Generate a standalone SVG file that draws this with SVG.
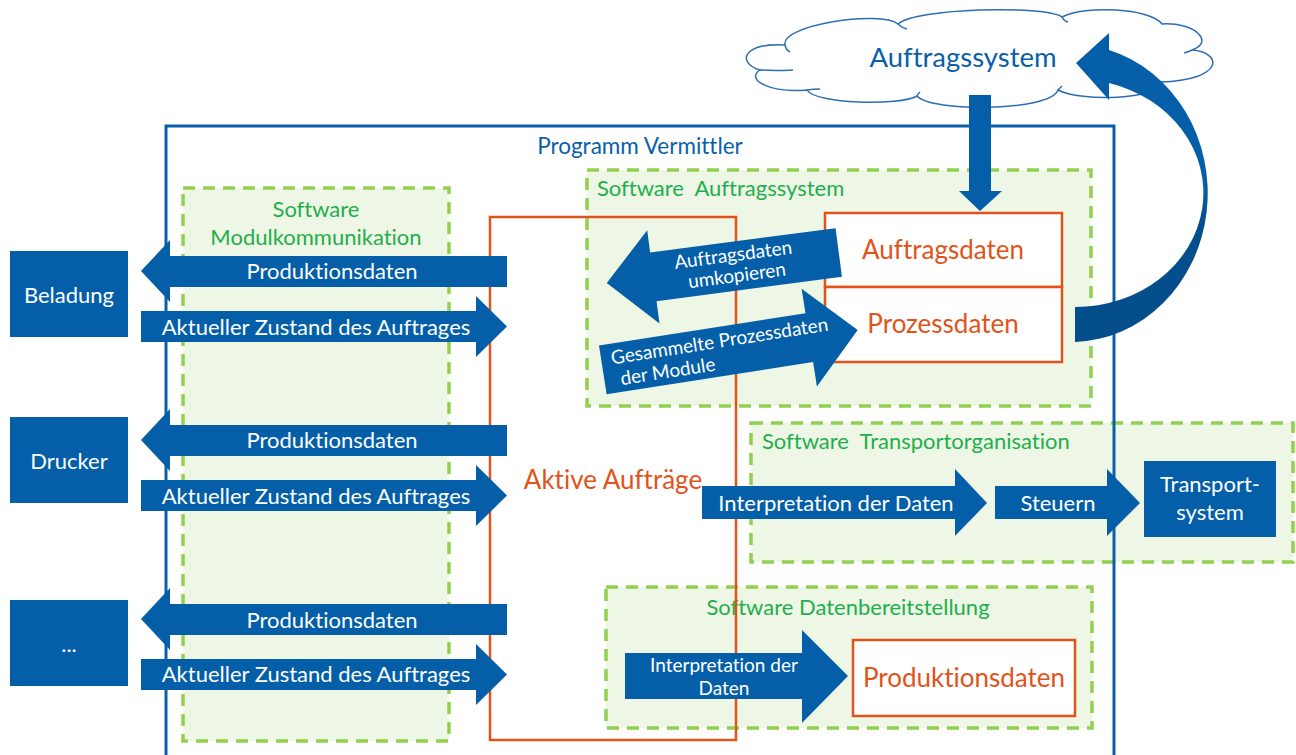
<svg xmlns="http://www.w3.org/2000/svg" width="1296" height="755" viewBox="0 0 1296 755">
<style>
.blue{fill:#045FA8}
.sw{fill:#EEF6E6;stroke:#92D050;stroke-width:3.5;stroke-dasharray:12 8}
.org{fill:none;stroke:#E2531A;stroke-width:2.5}
.ob{fill:#fff;stroke:#E2531A;stroke-width:2.5}
text{font-family:Lato,"Open Sans","Liberation Sans",sans-serif;font-variant-ligatures:none}
.w{fill:#fff;font-size:22px}
.ws{fill:#fff;font-size:19px}
.g{fill:#1FAF4C;font-size:22px}
.o{fill:#E2531A;font-size:26px}
.b{fill:#0B5FA8}
.c{text-anchor:middle}
</style>
<defs>
<linearGradient id="cg" gradientUnits="userSpaceOnUse" x1="0" y1="185" x2="0" y2="225">
<stop offset="0" stop-color="#045FA8"/>
<stop offset="1" stop-color="#044E8B"/>
</linearGradient>
</defs>

<g id="aktive-auftraege-bg"><rect x="490" y="217" width="246" height="523" fill="#fff"/></g>

<g id="sw-modulkommunikation">
<rect class="sw" x="183" y="188" width="266" height="553"/>
<text class="g c" x="316" y="217">Software</text>
<text class="g c" x="316" y="245">Modulkommunikation</text>
</g>
<g id="sw-auftragssystem">
<rect class="sw" x="587" y="170" width="504" height="236"/>
<text class="g" x="597" y="196" xml:space="preserve">Software  Auftragssystem</text>
</g>
<g id="sw-transport">
<rect class="sw" x="751" y="423" width="542" height="139"/>
<text class="g" x="762" y="449" xml:space="preserve">Software  Transportorganisation</text>
</g>
<g id="sw-datenbereitstellung">
<rect class="sw" x="606" y="587" width="486" height="141"/>
<text class="g c" x="848" y="615">Software Datenbereitstellung</text>
</g>

<g id="aktive-auftraege">
<rect class="org" x="490" y="217" width="246" height="523"/>
<text class="o c" x="613" y="489" font-size="25">Aktive Aufträge</text>
</g>

<g id="programm-vermittler">
<rect x="166" y="126" width="948" height="640" fill="none" stroke="#0B5FA8" stroke-width="3"/>
<text class="b c" x="640" y="154" font-size="22.5">Programm Vermittler</text>
</g>

<g id="cloud">
<path d="M785,45 C780,25 880,10 898,24 C915,8 1045,5 1062,17 C1085,5 1150,8 1162,24 C1195,22 1215,42 1192,50 C1222,52 1226,80 1160,82 C1160,100 1080,102 1058,90 C1050,112 930,112 917,96 C900,106 815,104 807,90 C770,93 745,80 760,70 C735,62 745,42 785,45 Z" fill="#fff" stroke="#2E6DB4" stroke-width="1.5"/>
<path d="M785,45 Q786,50 790,52 M898,24 Q902,28 907,29 M1062,17 Q1064,21 1068,22 M1192,50 Q1188,52 1184,53 M760,70 Q775,71 793,70 M807,90 Q813,89 820,89 M917,96 Q917,95 920,92 M1058,90 Q1060,88 1062,86" fill="none" stroke="#2E6DB4" stroke-width="1.5"/>
<text class="b c" x="963" y="67" font-size="27.5">Auftragssystem</text>
</g>

<g id="auftragsdaten">
<rect class="ob" x="825" y="213" width="237" height="74"/>
<text class="o c" x="943" y="259">Auftragsdaten</text>
</g>
<g id="prozessdaten">
<rect class="ob" x="825" y="287" width="237" height="75"/>
<text class="o c" x="943" y="333">Prozessdaten</text>
</g>
<g id="produktionsdaten-out">
<rect class="ob" x="853" y="640" width="222" height="76"/>
<text class="o c" x="964" y="687" font-size="27">Produktionsdaten</text>
</g>

<g id="beladung">
<rect class="blue" x="10" y="251" width="118" height="86"/>
<text class="w c" x="69" y="303">Beladung</text>
</g>
<g id="drucker">
<rect class="blue" x="10" y="417" width="118" height="86"/>
<text class="w c" x="69" y="469">Drucker</text>
</g>
<g id="weitere">
<rect class="blue" x="10" y="600" width="118" height="86"/>
<text class="w c" x="69" y="652">...</text>
</g>
<g id="transportsystem">
<rect class="blue" x="1144" y="461" width="132" height="76"/>
<text class="w c" x="1210" y="492">Transport-</text>
<text class="w c" x="1210" y="520">system</text>
</g>

<g id="connectors">
<path class="blue" d="M141,271 L170,240 L170,256 L507,256 L507,287 L170,287 L170,302 Z"/>
<path class="blue" d="M141,311 L476,311 L476,296 L507,326.5 L476,357 L476,342 L141,342 Z"/>
<path class="blue" d="M141,440 L170,409 L170,425 L507,425 L507,456 L170,456 L170,471 Z"/>
<path class="blue" d="M141,480 L476,480 L476,465 L507,495.5 L476,526 L476,511 L141,511 Z"/>
<path class="blue" d="M141,619 L170,588 L170,604 L507,604 L507,635 L170,635 L170,650 Z"/>
<path class="blue" d="M141,659 L476,659 L476,644 L507,674.5 L476,705 L476,690 L141,690 Z"/>
<path class="blue" d="M702,486 L955,486 L955,469 L987,503 L955,536 L955,519 L702,519 Z"/>
<path class="blue" d="M995,486 L1107,486 L1107,469 L1140,503 L1107,536 L1107,519 L995,519 Z"/>
<path class="blue" d="M625,653 L802,653 L802,630 L848,676 L802,723 L802,699 L625,699 Z"/>
<path class="blue" d="M969,95 L991,95 L991,191 L1002,191 L980,211 L959,191 L969,191 Z"/>
<path fill="url(#cg)" d="M1075,342 A137,149 0 0 0 1109,50 L1109,33 L1076,63 L1109,100 L1109,83 A128,114 0 0 1 1075,307 Z"/>
<g transform="translate(722.75,267.75) rotate(-7.5)">
<path class="blue" d="M-117,0 L-70,-47 L-70,-24.5 L117,-24.5 L117,24.5 L-70,24.5 L-70,47 Z"/>
<text class="ws c" x="12" y="-5">Auftragsdaten</text>
<text class="ws c" x="13" y="16">umkopieren</text>
</g>
<g transform="translate(730.25,350) rotate(-8.9)">
<path class="blue" d="M-129,-24.7 L80,-24.7 L80,-49.5 L129,0 L80,49.5 L80,24.7 L-129,24.7 Z"/>
<text class="ws" x="-119" y="-4">Gesammelte Prozessdaten</text>
<text class="ws" x="-113" y="18">der Module</text>
</g>
<text class="w c" x="332" y="279">Produktionsdaten</text>
<text class="w c" x="316" y="335">Aktueller Zustand des Auftrages</text>
<text class="w c" x="332" y="448">Produktionsdaten</text>
<text class="w c" x="316" y="504">Aktueller Zustand des Auftrages</text>
<text class="w c" x="332" y="628">Produktionsdaten</text>
<text class="w c" x="316" y="682">Aktueller Zustand des Auftrages</text>
<text class="w c" x="836" y="511">Interpretation der Daten</text>
<text class="w c" x="1058" y="511">Steuern</text>
<text class="ws c" x="724" y="672">Interpretation der</text>
<text class="ws c" x="724" y="695">Daten</text>
</g>
</svg>
